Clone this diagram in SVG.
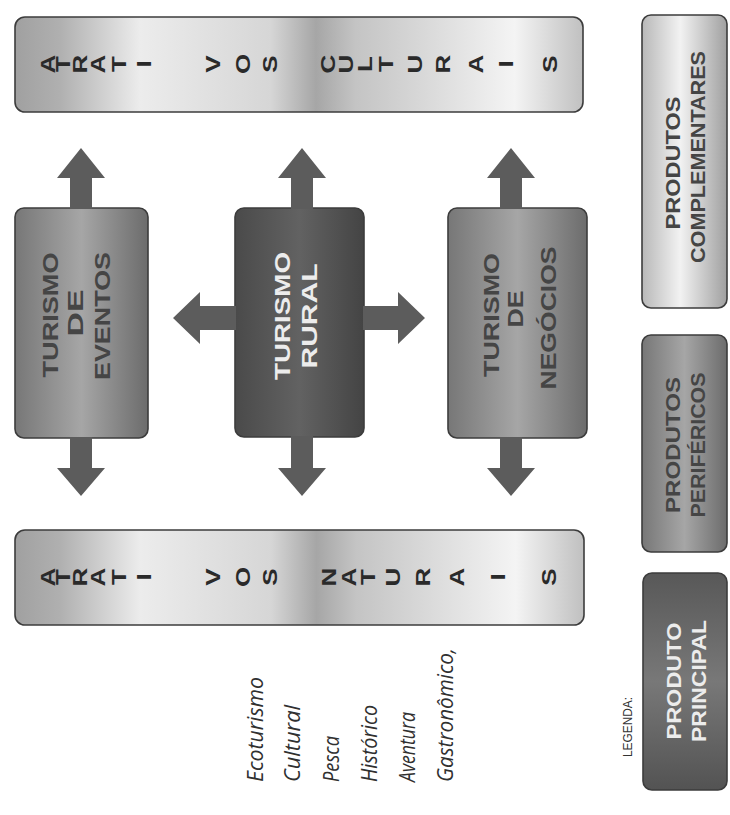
<svg xmlns="http://www.w3.org/2000/svg" width="730" height="815" viewBox="0 0 730 815">
<defs>
<linearGradient id="gAtr" x1="0" y1="0" x2="1" y2="0">
<stop offset="0" stop-color="#a0a0a0"/>
<stop offset="0.08" stop-color="#b0b0b0"/>
<stop offset="0.22" stop-color="#ececec"/>
<stop offset="0.45" stop-color="#d6d6d6"/>
<stop offset="0.53" stop-color="#a6a6a6"/>
<stop offset="0.6" stop-color="#c4c4c4"/>
<stop offset="0.88" stop-color="#f4f4f4"/>
<stop offset="1" stop-color="#c0c0c0"/>
</linearGradient>
<linearGradient id="gMed" x1="0" y1="0" x2="1" y2="0">
<stop offset="0" stop-color="#777777"/>
<stop offset="0.5" stop-color="#a6a6a6"/>
<stop offset="1" stop-color="#6c6c6c"/>
</linearGradient>
<linearGradient id="gDark" x1="0" y1="0" x2="1" y2="0">
<stop offset="0" stop-color="#4a4a4a"/>
<stop offset="0.5" stop-color="#626262"/>
<stop offset="1" stop-color="#444444"/>
</linearGradient>
<linearGradient id="gLight" x1="0" y1="0" x2="1" y2="0">
<stop offset="0" stop-color="#b8b8b8"/>
<stop offset="0.45" stop-color="#f2f2f2"/>
<stop offset="1" stop-color="#a0a0a0"/>
</linearGradient>
<linearGradient id="gPrin" x1="0" y1="0" x2="0" y2="1">
<stop offset="0" stop-color="#585858"/>
<stop offset="0.5" stop-color="#787878"/>
<stop offset="1" stop-color="#535353"/>
</linearGradient>
</defs>
<style>
.box{stroke:#3c3c3c;stroke-width:1.6}
.arrow{fill:#5c5c5c}
.lt{font-family:"Liberation Sans",Arial,sans-serif;font-weight:bold;font-size:20px;fill:#2a2a2a;text-anchor:middle}
.lb{font-family:"Liberation Sans",Arial,sans-serif;font-weight:bold;font-size:22px;text-anchor:middle}
.dk{fill:#454545}
.wh{fill:#ececec}
.it{font-family:"Open Sans","Liberation Sans",sans-serif;font-style:italic;font-size:22px;fill:#303030;text-anchor:start}
.leg{font-family:"Liberation Sans",Arial,sans-serif;font-size:12px;fill:#333333;text-anchor:middle}
</style>
<rect width="730" height="815" fill="#ffffff"/>

<g id="atrativos-culturais">
<rect class="box" x="15" y="17" width="568" height="95" rx="10" fill="url(#gAtr)"/>
<g class="lt">
<text transform="translate(55,64) rotate(-90) scale(1.3,1)">A</text>
<text transform="translate(70,64) rotate(-90) scale(1.3,1)">T</text>
<text transform="translate(87,64) rotate(-90) scale(1.3,1)">R</text>
<text transform="translate(105,64) rotate(-90) scale(1.3,1)">A</text>
<text transform="translate(126,64) rotate(-90) scale(1.3,1)">T</text>
<text transform="translate(151,64) rotate(-90) scale(1.3,1)">I</text>
<text transform="translate(220,64) rotate(-90) scale(1.3,1)">V</text>
<text transform="translate(250,64) rotate(-90) scale(1.3,1)">O</text>
<text transform="translate(277,64) rotate(-90) scale(1.3,1)">S</text>
<text transform="translate(335,64) rotate(-90) scale(1.3,1)">C</text>
<text transform="translate(353,64) rotate(-90) scale(1.3,1)">U</text>
<text transform="translate(372,64) rotate(-90) scale(1.3,1)">L</text>
<text transform="translate(393,64) rotate(-90) scale(1.3,1)">T</text>
<text transform="translate(422,64) rotate(-90) scale(1.3,1)">U</text>
<text transform="translate(450,64) rotate(-90) scale(1.3,1)">R</text>
<text transform="translate(483,64) rotate(-90) scale(1.3,1)">A</text>
<text transform="translate(513,64) rotate(-90) scale(1.3,1)">I</text>
<text transform="translate(557,64) rotate(-90) scale(1.3,1)">S</text>
</g>
</g>

<g id="atrativos-naturais">
<rect class="box" x="15" y="530" width="569" height="95" rx="10" fill="url(#gAtr)"/>
<g class="lt">
<text transform="translate(55,577) rotate(-90) scale(1.3,1)">A</text>
<text transform="translate(70,577) rotate(-90) scale(1.3,1)">T</text>
<text transform="translate(87,577) rotate(-90) scale(1.3,1)">R</text>
<text transform="translate(105,577) rotate(-90) scale(1.3,1)">A</text>
<text transform="translate(126,577) rotate(-90) scale(1.3,1)">T</text>
<text transform="translate(151,577) rotate(-90) scale(1.3,1)">I</text>
<text transform="translate(220,577) rotate(-90) scale(1.3,1)">V</text>
<text transform="translate(250,577) rotate(-90) scale(1.3,1)">O</text>
<text transform="translate(277,577) rotate(-90) scale(1.3,1)">S</text>
<text transform="translate(336,577) rotate(-90) scale(1.3,1)">N</text>
<text transform="translate(356,577) rotate(-90) scale(1.3,1)">A</text>
<text transform="translate(375,577) rotate(-90) scale(1.3,1)">T</text>
<text transform="translate(400,577) rotate(-90) scale(1.3,1)">U</text>
<text transform="translate(430,577) rotate(-90) scale(1.3,1)">R</text>
<text transform="translate(464,577) rotate(-90) scale(1.3,1)">A</text>
<text transform="translate(505,577) rotate(-90) scale(1.3,1)">I</text>
<text transform="translate(556,577) rotate(-90) scale(1.3,1)">S</text>
</g>
</g>

<g id="turismo-eventos">
<rect class="box" x="15" y="208" width="133" height="230" rx="9" fill="url(#gMed)"/>
<g class="lb dk">
<text transform="translate(58,315) rotate(-90)" textLength="125" lengthAdjust="spacingAndGlyphs">TURISMO</text>
<text transform="translate(83,313) rotate(-90)" textLength="47" lengthAdjust="spacingAndGlyphs">DE</text>
<text transform="translate(110,316) rotate(-90)" textLength="128" lengthAdjust="spacingAndGlyphs">EVENTOS</text>
</g>
</g>

<g id="turismo-rural">
<rect class="box" x="235" y="208" width="129" height="229" rx="9" fill="url(#gDark)"/>
<g class="lb wh">
<text transform="translate(290,316) rotate(-90)" textLength="128" lengthAdjust="spacingAndGlyphs">TURISMO</text>
<text transform="translate(317,316) rotate(-90)" textLength="105" lengthAdjust="spacingAndGlyphs">RURAL</text>
</g>
</g>

<g id="turismo-negocios">
<rect class="box" x="448" y="208" width="139" height="230" rx="9" fill="url(#gMed)"/>
<g class="lb dk">
<text transform="translate(499,315) rotate(-90)" textLength="124" lengthAdjust="spacingAndGlyphs">TURISMO</text>
<text transform="translate(523,309) rotate(-90)" textLength="37" lengthAdjust="spacingAndGlyphs">DE</text>
<text transform="translate(556,318) rotate(-90)" textLength="143" lengthAdjust="spacingAndGlyphs">NEGÓCIOS</text>
</g>
</g>

<g id="legenda-complementares">
<rect class="box" x="642" y="15" width="85" height="293" rx="9" fill="url(#gLight)"/>
<g class="lb dk" style="font-size:21px">
<text transform="translate(680,163) rotate(-90)" textLength="133" lengthAdjust="spacingAndGlyphs">PRODUTOS</text>
<text transform="translate(705,157) rotate(-90)" textLength="212" lengthAdjust="spacingAndGlyphs">COMPLEMENTARES</text>
</g>
</g>

<g id="legenda-perifericos">
<rect class="box" x="642" y="335" width="85" height="217" rx="9" fill="url(#gMed)"/>
<g class="lb dk" style="font-size:21px">
<text transform="translate(680,445) rotate(-90)" textLength="136" lengthAdjust="spacingAndGlyphs">PRODUTOS</text>
<text transform="translate(705,445) rotate(-90)" textLength="145" lengthAdjust="spacingAndGlyphs">PERIFÉRICOS</text>
</g>
</g>

<g id="legenda-principal">
<rect class="box" x="643" y="573" width="84" height="217" rx="9" fill="url(#gPrin)"/>
<g class="lb wh" style="font-size:21px">
<text transform="translate(681,681) rotate(-90)" textLength="117" lengthAdjust="spacingAndGlyphs">PRODUTO</text>
<text transform="translate(706,681) rotate(-90)" textLength="122" lengthAdjust="spacingAndGlyphs">PRINCIPAL</text>
</g>
</g>

<g id="legenda-titulo">
<text class="leg" transform="translate(632,727) rotate(-90)" textLength="60" lengthAdjust="spacingAndGlyphs">LEGENDA:</text>
</g>

<g id="lista-segmentos">
<text class="it" transform="translate(263,782) rotate(-90)" textLength="105" lengthAdjust="spacingAndGlyphs">Ecoturismo</text>
<text class="it" transform="translate(300,782) rotate(-90)" textLength="77" lengthAdjust="spacingAndGlyphs">Cultural</text>
<text class="it" transform="translate(339,782) rotate(-90)" textLength="46" lengthAdjust="spacingAndGlyphs">Pesca</text>
<text class="it" transform="translate(377,782) rotate(-90)" textLength="77" lengthAdjust="spacingAndGlyphs">Histórico</text>
<text class="it" transform="translate(415,782) rotate(-90)" textLength="70" lengthAdjust="spacingAndGlyphs">Aventura</text>
<text class="it" transform="translate(453,782) rotate(-90)" textLength="134" lengthAdjust="spacingAndGlyphs">Gastronômico,</text>
</g>

<g id="connectors">
<polygon class="arrow" points="81,148 105,178 92,178 92,209 70,209 70,178 57,178"/>
<polygon class="arrow" points="302,148 326,178 313,178 313,209 291,209 291,178 278,178"/>
<polygon class="arrow" points="511,148 535,178 522,178 522,209 500,209 500,178 487,178"/>
<polygon class="arrow" points="81,496 105,468 92,468 92,437 70,437 70,468 57,468"/>
<polygon class="arrow" points="302,496 326,468 313,468 313,436 291,436 291,468 278,468"/>
<polygon class="arrow" points="511,496 535,468 522,468 522,437 500,437 500,468 487,468"/>
<polygon class="arrow" points="173,318 200,292 200,306 236,306 236,330 200,330 200,344"/>
<polygon class="arrow" points="425,318 398,292 398,306 363,306 363,330 398,330 398,344"/>
</g>
</svg>
